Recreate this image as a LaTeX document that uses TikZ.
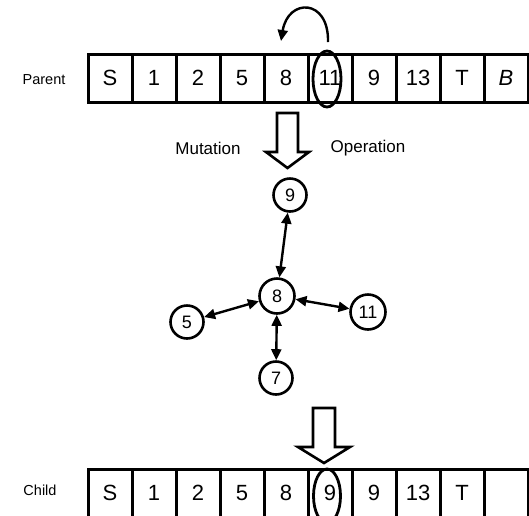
\documentclass[tikz,border=0pt]{standalone}
\usepackage{fontspec}
\setmainfont{Liberation Sans}
\usetikzlibrary{arrows.meta}
\begin{document}
\begin{tikzpicture}[x=1pt,y=-1pt,
  cell/.style={draw,line width=3pt,minimum width=44pt,minimum height=48pt,inner sep=0pt,font=\fontsize{22}{22}\selectfont},
  gene/.style={draw,circle,line width=2.6pt,minimum size=33pt,inner sep=0pt,font=\fontsize{18}{18}\selectfont},
  lbl/.style={font=\fontsize{14.5}{14.5}\selectfont},
  oplbl/.style={font=\fontsize{17}{17}\selectfont},
  link/.style={line width=2.4pt,{Triangle[length=11pt,width=10pt]}-{Triangle[length=11pt,width=10pt]}},
  block/.style={draw,line width=2.6pt,fill=white,line join=miter},
  ring/.style={line width=2.8pt}]
\useasboundingbox (0,0) rectangle (529,515);

% parent chromosome
\foreach \t [count=\i] in {S,1,2,5,8,11,9,13,T,\textit{B}}
  \node[cell] (p\i) at (66+44*\i,78) {\t};
\node[lbl] (parent) at (44,80) {Parent};
\draw[ring] (327,79) ellipse (14pt and 28pt);

% curved arrow over the chosen gene
\coordinate (arcA) at (328,42);
\coordinate (arcB) at (281,41);
\draw[line width=2.4pt,-{Triangle[length=11pt,width=10pt]}] (arcA) .. controls (329,-2) and (288,-2) .. (arcB);

% mutation block arrow
\draw[block] (277,113) -- (298,113) -- (298,152) -- (309,152) -- (287.5,168)
  -- (266,152) -- (277,152) -- cycle;
\node[oplbl] (mut) at (208,148) {Mutation};
\node[oplbl] (op) at (368,148) {Operation};

% neighbourhood of gene 8
\node[gene] (n9) at (290,195) {9};
\node[gene,minimum size=35pt] (n8) at (277,296) {8};
\node[gene] (n5) at (187,322) {5};
\node[gene,minimum size=35pt] (n11) at (368,312) {11};
\node[gene] (n7) at (276,378) {7};
\draw[link] (n9) -- (n8);
\draw[link] (n5) -- (n8);
\draw[link] (n8) -- (n11);
\draw[link] (n8) -- (n7);

% result block arrow
\draw[block] (313,408) -- (335,408) -- (335,447) -- (350,447) -- (324,463)
  -- (298,447) -- (313,447) -- cycle;

% child chromosome
\foreach \t [count=\i] in {S,1,2,5,8,9,9,13,T,{}}
  \node[cell] (c\i) at (66+44*\i,493) {\t};
\node[lbl] (child) at (40,490) {Child};
\draw[ring] (327,496) ellipse (13.5pt and 27pt);
\end{tikzpicture}
\end{document}
